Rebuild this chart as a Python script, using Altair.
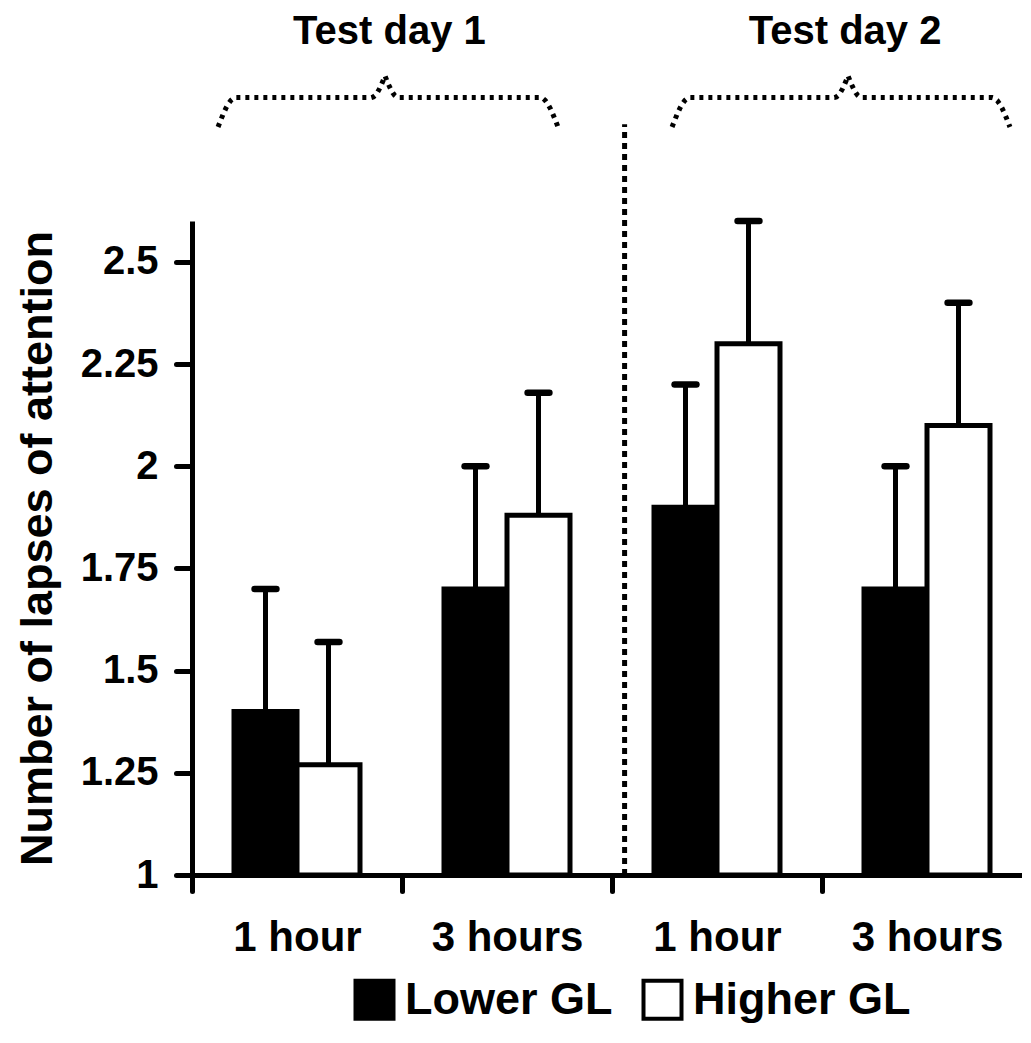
import altair as alt
import pandas as pd
import numpy as np

# ---- data ----
groups = ["1 hour", "3 hours", "1 hour", "3 hours"]
days = ["Test day 1", "Test day 1", "Test day 2", "Test day 2"]
series = ["Lower GL", "Higher GL"]
lower_mean = [1.40, 1.70, 1.90, 1.70]
lower_err = [0.30, 0.30, 0.30, 0.30]
higher_mean = [1.27, 1.88, 2.30, 2.10]
higher_err = [0.30, 0.30, 0.30, 0.30]
y_ticks = [1, 1.25, 1.5, 1.75, 2, 2.25, 2.5]
day_names = ["Test day 1", "Test day 2"]

# ---- layout / style ----
FONT = "Liberation Sans"
W, H = 830, 654
UNIT = 210.0
XMAX = W / UNIT
YMIN, YMAX = 1.0, 2.6
BAR_W = 0.30
CAP = 0.052

rows = []
for i, (g, d) in enumerate(zip(groups, days)):
    c = i + 0.5
    for s, m, e, x0, x1 in (
        (series[0], lower_mean[i], lower_err[i], c - BAR_W, c),
        (series[1], higher_mean[i], higher_err[i], c, c + BAR_W),
    ):
        xm = (x0 + x1) / 2
        rows.append(dict(group=g, day=d, series=s, mean=m, top=m + e, base=YMIN,
                         x0=x0, x1=x1, xm=xm, c0=xm - CAP, c1=xm + CAP))
df = pd.DataFrame(rows)

xscale = alt.Scale(domain=[0, XMAX], nice=False, zero=False)
yscale = alt.Scale(domain=[YMIN, YMAX], nice=False, zero=False)

xvals = [k * 0.5 for k in range(8)]
lab_parts = []
for i, g in enumerate(groups):
    lab_parts.append(f"datum.value == {i + 0.5} ? '{g}' : ")
label_expr = "".join(lab_parts) + "''"

xaxis = alt.Axis(values=xvals, labelExpr=label_expr, title=None, grid=False,
                 tickOpacity={"condition": {"test": "datum.value % 1 != 0", "value": 0}, "value": 1},
                 domainWidth=5, domainColor="black", tickWidth=5, tickSize=16,
                 tickColor="black", tickCap="round",
                 labelFont=FONT, labelFontSize=42, labelFontWeight="bold", labelColor="black",
                 labelPadding=26, labelOverlap=False, labelFlush=False)
yaxis = alt.Axis(values=y_ticks, labelExpr="datum.value + ''", title="Number of lapses of attention",
                 grid=False,
                 domainWidth=5, domainColor="black", tickWidth=5, tickSize=16,
                 tickColor="black", tickCap="round",
                 labelFont=FONT, labelFontSize=40, labelFontWeight="bold", labelColor="black",
                 labelPadding=18,
                 titleFont=FONT, titleFontSize=45, titleFontWeight="bold", titleColor="black",
                 titlePadding=20)


def X(f):
    return alt.X(f, type="quantitative", scale=xscale, axis=xaxis)


def Y(f):
    return alt.Y(f, type="quantitative", scale=yscale, axis=yaxis)


bars = alt.Chart(df).mark_rect(stroke="black", strokeWidth=5).encode(
    x=X("x0"), x2="x1", y=Y("base"), y2="mean",
    fill=alt.Fill("series:N", scale=alt.Scale(domain=series, range=["black", "white"]),
                  legend=alt.Legend(orient="none", legendX=160, legendY=756, direction="horizontal",
                                    title=None, symbolType="square", symbolSize=1444,
                                    symbolStrokeColor="black", symbolStrokeWidth=4,
                                    symbolOpacity=1,
                                    labelFont=FONT, labelFontSize=45, labelFontWeight="bold",
                                    labelColor="black", labelOffset=8, columnPadding=22,
                                    labelLimit=400)),
)

err = alt.Chart(df).mark_rule(color="black", strokeWidth=5).encode(
    x=X("xm"), y=Y("mean"), y2="top")
caps = alt.Chart(df).mark_rule(color="black", strokeWidth=6.5, strokeCap="round").encode(
    x=X("c0"), x2="c1", y=Y("top"))

# separator between test days
sep_df = pd.DataFrame({"x": [2.06], "y": [YMIN], "y2": [2.837]})
sep = alt.Chart(sep_df).mark_rule(color="black", strokeWidth=5, strokeDash=[6, 5]).encode(
    x=X("x"), y=Y("y"), y2="y2")

# curly braces over each test day
def brace(name, xa, xb, xp, yb=2.830, yf=2.902, yp=2.955, e=0.085, p=0.065):
    pts = []
    t = np.linspace(0, 1, 8)
    for v in t:
        pts.append((xa + e * v, yb + (yf - yb) * np.sin(v * np.pi / 2)))
    pts.append((xp - p, yf))
    for v in t[1:]:
        pts.append((xp - p + p * v, yf + (yp - yf) * (1 - np.cos(v * np.pi / 2))))
    for v in t[1:]:
        pts.append((xp + p * v, yp - (yp - yf) * np.sin(v * np.pi / 2)))
    pts.append((xb - e, yf))
    for v in t[1:]:
        pts.append((xb - e + e * v, yf - (yf - yb) * (1 - np.cos(v * np.pi / 2))))
    return [dict(day=name, x=px, y=py, k=k) for k, (px, py) in enumerate(pts)]

br_rows = brace(day_names[0], 0.124, 1.743, 0.919) + brace(day_names[1], 2.286, 3.895, 3.124)
br_df = pd.DataFrame(br_rows)
braces = alt.Chart(br_df).mark_line(color="black", strokeWidth=5, strokeDash=[4, 5]).encode(
    x=X("x"), y=Y("y"), detail="day:N", order="k:Q")

title_df = pd.DataFrame({"day": day_names, "x": [0.94, 3.11], "y": [3.062, 3.062]})
titles = alt.Chart(title_df).mark_text(font=FONT, fontSize=40, fontWeight="bold", color="black",
                                       baseline="middle", align="center").encode(
    x=X("x"), y=Y("y"), text="day:N")

chart = alt.layer(bars, err, caps, sep, braces, titles).properties(
    width=W, height=H,
    autosize=alt.AutoSizeParams(type="none"),
    padding={"left": 184, "top": 213, "right": 0, "bottom": 155},
).configure(background="white").configure_view(stroke=None)

chart.save("out.html", embed_options={"renderer": "svg", "actions": False})
